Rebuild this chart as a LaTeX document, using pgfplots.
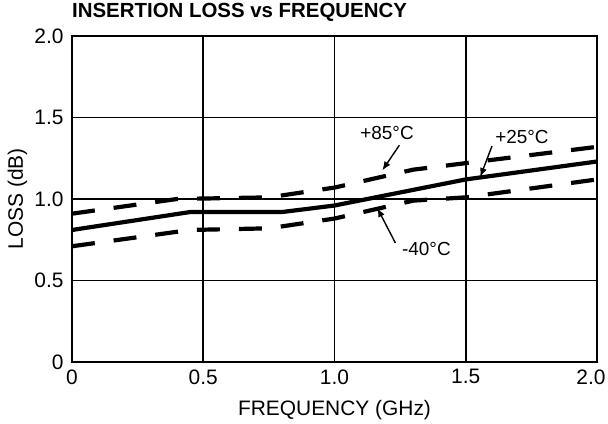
\documentclass[border=0pt]{standalone}
\usepackage{fontspec}
\setmainfont{Liberation Sans}
\usepackage{pgfplots}
\pgfplotsset{compat=1.18}
\usetikzlibrary{arrows.meta}
\begin{document}
\begin{tikzpicture}
\begin{axis}[at={(72bp,62bp)}, anchor=south west, scale only axis,
  width=525bp, height=326bp,
  xmin=0, xmax=2, ymin=0, ymax=2,
  xtick={0,0.5,1,1.5,2}, xticklabels={0,0.5,1.0,1.5,\hspace*{-12bp}2.0},
  ytick={0,0.5,1,1.5,2}, yticklabels={0,0.5,1.0,1.5,2.0},
  /pgf/number format/assume math mode=true,
  grid=major, major grid style={black, line width=1.8bp},
  axis line style={black, line width=2.6bp},
  tick style={draw=none},
  ticklabel style={font=\fontsize{21}{24}\selectfont},
  xticklabel style={yshift=-4bp},
  yticklabel style={xshift=-5bp},
  xlabel={FREQUENCY (GHz)}, ylabel={LOSS (dB)},
  label style={font=\fontsize{21}{24}\selectfont},
  xlabel style={at={(axis description cs:0.5,-0.147)}, anchor=center},
  ylabel style={at={(axis description cs:-0.104,0.5)}, anchor=center},
  title={INSERTION LOSS vs FREQUENCY},
  title style={at={(axis description cs:0,1.054)}, anchor=west, font=\bfseries\fontsize{20.5}{24}\selectfont, inner sep=0pt},
  clip=false,
]
% +25C
\addplot[black, line width=4.2bp] coordinates {(0,0.81) (0.45,0.92) (0.8,0.92) (1.0,0.96) (1.5,1.12) (2.0,1.23)};
% +85C
\addplot[black, line width=4.2bp, dash pattern=on 23bp off 19bp] coordinates {(0,0.91) (0.4,1.0) (0.75,1.01) (1.0,1.07) (1.3,1.18) (1.5,1.22) (2.0,1.32)};
% -40C
\addplot[black, line width=4.2bp, dash pattern=on 23bp off 19bp] coordinates {(0,0.71) (0.45,0.81) (0.75,0.82) (1.0,0.88) (1.3,0.99) (1.5,1.01) (2.0,1.12)};
\node[font=\fontsize{19}{22}\selectfont] at (axis cs:1.20,1.405) {+85°C};
\node[font=\fontsize{19}{22}\selectfont] at (axis cs:1.714,1.38) {+25°C};
\node[font=\fontsize{19}{22}\selectfont] at (axis cs:1.35,0.693) {-40°C};
\draw[black, line width=1.4bp, -{Latex[length=9bp,width=7bp]}] (axis cs:1.247,1.33) -- (axis cs:1.182,1.175);
\draw[black, line width=1.4bp, -{Latex[length=9bp,width=7bp]}] (axis cs:1.60,1.325) -- (axis cs:1.555,1.135);
\draw[black, line width=1.4bp, -{Latex[length=9bp,width=7bp]}] (axis cs:1.232,0.73) -- (axis cs:1.163,0.945);
\end{axis}
\pgfresetboundingbox
\path (0bp,0bp) rectangle (608bp,424bp);
\end{tikzpicture}
\end{document}
